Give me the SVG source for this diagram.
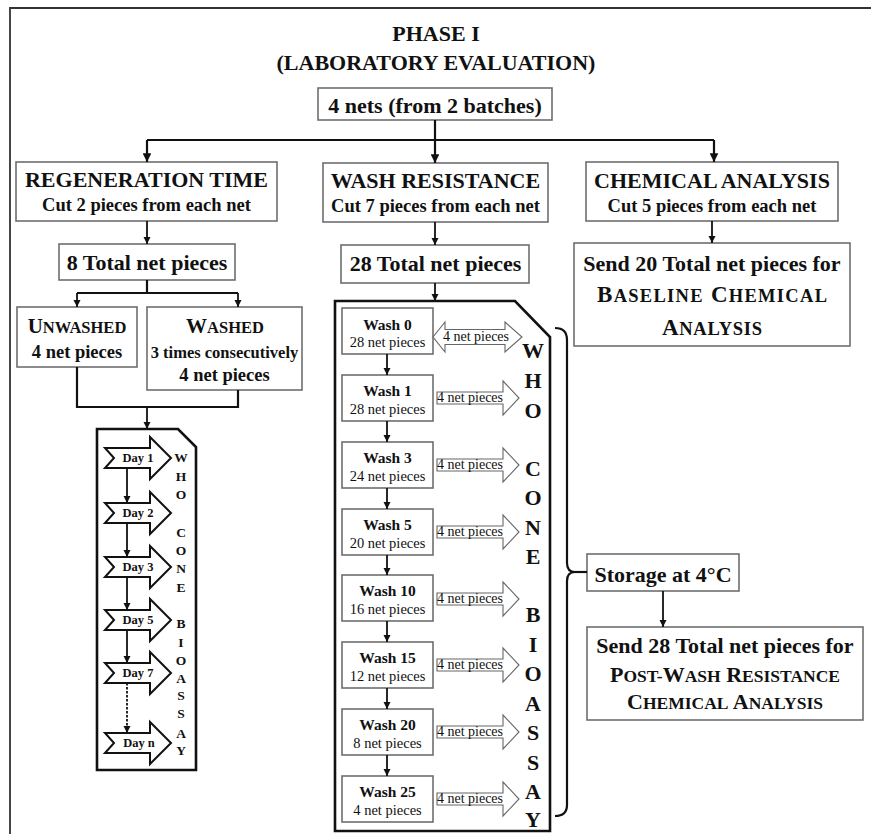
<svg xmlns="http://www.w3.org/2000/svg" width="871" height="834" viewBox="0 0 871 834">
<style>
text{font-family:"Liberation Serif","Times New Roman",serif;fill:#111;}
.box{fill:#fff;stroke:#6e6e6e;stroke-width:1.6;}
.thick{fill:#fff;stroke:#111;stroke-width:2.6;}
.ln{fill:none;stroke:#111;stroke-width:2.2;}
.lnt{fill:none;stroke:#111;stroke-width:1.8;}
.day{fill:#fff;stroke:#111;stroke-width:2;}
.np{fill:#fff;stroke:#666;stroke-width:1.1;}
.t22{font-size:22px;font-weight:bold;}
.t18{font-size:18.5px;font-weight:bold;}
.sc{font-size:17.5px;}
.wl{font-size:15.5px;font-weight:bold;}
.wc{font-size:14.5px;}
.npt{font-size:14px;}
.dt{font-size:12.5px;font-weight:bold;}
.lw{font-size:13.5px;font-weight:bold;}
.mw{font-size:22px;font-weight:bold;}
</style>
<defs>
<marker id="ah" viewBox="0 0 10 10" refX="10" refY="5" markerWidth="4" markerHeight="4" orient="auto" markerUnits="strokeWidth">
<path d="M0,0 L10,5 L0,10 z" fill="#111"/>
</marker>
</defs>

<g id="frame">
<path d="M10,834 L10,8 L871,8" fill="none" stroke="#333" stroke-width="1.8"/>
</g>

<g id="title">
<text class="t22" x="436" y="41" text-anchor="middle">PHASE I</text>
<text class="t22" x="436" y="70" text-anchor="middle">(LABORATORY EVALUATION)</text>
</g>

<g id="n-nets">
<rect class="box" x="318" y="88" width="234" height="32"/>
<text class="t22" x="435" y="113" text-anchor="middle">4 nets (from 2 batches)</text>
</g>

<g id="n-regen">
<rect class="box" x="16" y="162" width="261" height="59"/>
<text class="t22" x="146.5" y="187" text-anchor="middle">REGENERATION TIME</text>
<text class="t18" x="146.5" y="211" text-anchor="middle">Cut 2 pieces from each net</text>
</g>

<g id="n-washres">
<rect class="box" x="323" y="163" width="225" height="59"/>
<text class="t22" x="435.5" y="188" text-anchor="middle">WASH RESISTANCE</text>
<text class="t18" x="435.5" y="212" text-anchor="middle">Cut 7 pieces from each net</text>
</g>

<g id="n-chem">
<rect class="box" x="586" y="162" width="252" height="59"/>
<text class="t22" x="712" y="188" text-anchor="middle">CHEMICAL ANALYSIS</text>
<text class="t18" x="712" y="212" text-anchor="middle">Cut 5 pieces from each net</text>
</g>

<g id="n-8total">
<rect class="box" x="59" y="244" width="176" height="36"/>
<text class="t22" x="147" y="270" text-anchor="middle">8 Total net pieces</text>
</g>

<g id="n-28total">
<rect class="box" x="341" y="245" width="188" height="38"/>
<text class="t22" x="435.5" y="271" text-anchor="middle">28 Total net pieces</text>
</g>

<g id="n-send20">
<rect class="box" x="574" y="243" width="276" height="103"/>
<text class="t22" x="712" y="271" text-anchor="middle">Send 20 Total net pieces for</text>
<text class="t22" x="712" y="302" text-anchor="middle" style="font-size:23px" textLength="230" lengthAdjust="spacing">B<tspan style="font-size:18.5px">ASELINE</tspan> C<tspan style="font-size:18.5px">HEMICAL</tspan></text>
<text class="t22" x="712" y="335" text-anchor="middle" style="font-size:23px" textLength="100" lengthAdjust="spacing">A<tspan style="font-size:18.5px">NALYSIS</tspan></text>
</g>

<g id="n-unwashed">
<rect class="box" x="17" y="307" width="120" height="60"/>
<text class="t22" x="77" y="333" text-anchor="middle" style="font-size:21px">U<tspan style="font-size:16.5px">NWASHED</tspan></text>
<text class="t18" x="77" y="358" text-anchor="middle">4 net pieces</text>
</g>

<g id="n-washed">
<rect class="box" x="147" y="307" width="155" height="83"/>
<text class="t22" x="225" y="333" text-anchor="middle" style="font-size:21px">W<tspan style="font-size:16.5px">ASHED</tspan></text>
<text class="t18" x="224.5" y="358" text-anchor="middle" style="font-size:16.5px">3 times consecutively</text>
<text class="t18" x="224.5" y="381" text-anchor="middle">4 net pieces</text>
</g>

<g id="n-daybox">
<polygon class="thick" points="97,429 178,429 196,447 196,770 97,770"/>
<g id="days">
<polygon class="day" points="105,448 150,448 150,437 171,458 150,479 150,468 105,468 114,458"/>
<text class="dt" x="138" y="462" text-anchor="middle">Day 1</text>
<polygon class="day" points="105,503 150,503 150,492 171,513 150,534 150,523 105,523 114,513"/>
<text class="dt" x="138" y="517" text-anchor="middle">Day 2</text>
<polygon class="day" points="105,557 150,557 150,546 171,567 150,588 150,577 105,577 114,567"/>
<text class="dt" x="138" y="571" text-anchor="middle">Day 3</text>
<polygon class="day" points="105,610 150,610 150,599 171,620 150,641 150,630 105,630 114,620"/>
<text class="dt" x="138" y="624" text-anchor="middle">Day 5</text>
<polygon class="day" points="105,663 150,663 150,652 171,673 150,694 150,683 105,683 114,673"/>
<text class="dt" x="138" y="677" text-anchor="middle">Day 7</text>
<polygon class="day" points="105,733 150,733 150,722 171,743 150,764 150,753 105,753 114,743"/>
<text class="dt" x="139" y="747" text-anchor="middle">Day n</text>
</g>
<g id="who-left" text-anchor="middle">
<text class="lw" x="181" y="462">W</text>
<text class="lw" x="181" y="481">H</text>
<text class="lw" x="181" y="499">O</text>
<text class="lw" x="181" y="537">C</text>
<text class="lw" x="181" y="555">O</text>
<text class="lw" x="181" y="573">N</text>
<text class="lw" x="181" y="592">E</text>
<text class="lw" x="181" y="628">B</text>
<text class="lw" x="181" y="647">I</text>
<text class="lw" x="181" y="665">O</text>
<text class="lw" x="181" y="683">A</text>
<text class="lw" x="181" y="700">S</text>
<text class="lw" x="181" y="718">S</text>
<text class="lw" x="181" y="738">A</text>
<text class="lw" x="181" y="755">Y</text>
</g>
</g>

<g id="n-washbox">
<polygon class="thick" points="335,301 515,301 550,337 550,831 335,831"/>
</g>

<g id="n-wash0">
<rect class="box" x="342" y="308" width="91" height="46"/>
<text class="wl" x="387.5" y="330" text-anchor="middle">Wash 0</text>
<text class="wc" x="387.5" y="347" text-anchor="middle">28 net pieces</text>
</g>
<g id="n-wash1">
<rect class="box" x="342" y="375" width="91" height="46"/>
<text class="wl" x="387.5" y="396" text-anchor="middle">Wash 1</text>
<text class="wc" x="387.5" y="414" text-anchor="middle">28 net pieces</text>
</g>
<g id="n-wash3">
<rect class="box" x="342" y="442" width="91" height="46"/>
<text class="wl" x="387.5" y="463" text-anchor="middle">Wash 3</text>
<text class="wc" x="387.5" y="481" text-anchor="middle">24 net pieces</text>
</g>
<g id="n-wash5">
<rect class="box" x="342" y="509" width="91" height="46"/>
<text class="wl" x="387.5" y="530" text-anchor="middle">Wash 5</text>
<text class="wc" x="387.5" y="548" text-anchor="middle">20 net pieces</text>
</g>
<g id="n-wash10">
<rect class="box" x="342" y="575" width="91" height="46"/>
<text class="wl" x="387.5" y="596" text-anchor="middle">Wash 10</text>
<text class="wc" x="387.5" y="614" text-anchor="middle">16 net pieces</text>
</g>
<g id="n-wash15">
<rect class="box" x="342" y="642" width="91" height="46"/>
<text class="wl" x="387.5" y="663" text-anchor="middle">Wash 15</text>
<text class="wc" x="387.5" y="681" text-anchor="middle">12 net pieces</text>
</g>
<g id="n-wash20">
<rect class="box" x="342" y="709" width="91" height="46"/>
<text class="wl" x="387.5" y="730" text-anchor="middle">Wash 20</text>
<text class="wc" x="387.5" y="748" text-anchor="middle">8 net pieces</text>
</g>
<g id="n-wash25">
<rect class="box" x="342" y="776" width="91" height="46"/>
<text class="wl" x="387.5" y="797" text-anchor="middle">Wash 25</text>
<text class="wc" x="387.5" y="815" text-anchor="middle">4 net pieces</text>
</g>

<g id="np-arrows">
<polygon class="np" points="433,337 445,322 445,329.5 505,329.5 505,322 522,337 505,352 505,344.5 445,344.5 445,352"/>
<text class="npt" x="476" y="341" text-anchor="middle">4 net pieces</text>
<polygon class="np" points="437,392 503,392 503,381 519,398 503,415 503,404 437,404"/>
<text class="npt" x="470" y="402" text-anchor="middle">4 net pieces</text>
<polygon class="np" points="437,459 503,459 503,448 519,465 503,482 503,471 437,471"/>
<text class="npt" x="470" y="469" text-anchor="middle">4 net pieces</text>
<polygon class="np" points="437,526 503,526 503,515 519,532 503,549 503,538 437,538"/>
<text class="npt" x="470" y="536" text-anchor="middle">4 net pieces</text>
<polygon class="np" points="437,593 503,593 503,582 519,599 503,616 503,605 437,605"/>
<text class="npt" x="470" y="603" text-anchor="middle">4 net pieces</text>
<polygon class="np" points="437,659 503,659 503,648 519,665 503,682 503,671 437,671"/>
<text class="npt" x="470" y="669" text-anchor="middle">4 net pieces</text>
<polygon class="np" points="437,726 503,726 503,715 519,732 503,749 503,738 437,738"/>
<text class="npt" x="470" y="736" text-anchor="middle">4 net pieces</text>
<polygon class="np" points="437,793 503,793 503,782 519,799 503,816 503,805 437,805"/>
<text class="npt" x="470" y="803" text-anchor="middle">4 net pieces</text>
</g>

<g id="who-mid" text-anchor="middle">
<text class="mw" x="533" y="358">W</text>
<text class="mw" x="533" y="388">H</text>
<text class="mw" x="533" y="418">O</text>
<text class="mw" x="533" y="476">C</text>
<text class="mw" x="533" y="505">O</text>
<text class="mw" x="533" y="535">N</text>
<text class="mw" x="533" y="564">E</text>
<text class="mw" x="533" y="622">B</text>
<text class="mw" x="533" y="652">I</text>
<text class="mw" x="533" y="681">O</text>
<text class="mw" x="533" y="711">A</text>
<text class="mw" x="533" y="740">S</text>
<text class="mw" x="533" y="770">S</text>
<text class="mw" x="533" y="799">A</text>
<text class="mw" x="533" y="827">Y</text>
</g>

<g id="n-storage">
<rect class="box" x="587" y="554" width="152" height="37"/>
<text class="t22" x="663" y="582" text-anchor="middle">Storage at 4°C</text>
</g>

<g id="n-send28">
<rect class="box" x="587" y="627" width="276" height="93"/>
<text class="t22" x="725" y="653" text-anchor="middle">Send 28 Total net pieces for</text>
<text class="t22" x="725" y="682" text-anchor="middle">P<tspan class="sc">OST-</tspan>W<tspan class="sc">ASH</tspan> R<tspan class="sc">ESISTANCE</tspan></text>
<text class="t22" x="725" y="709" text-anchor="middle">C<tspan class="sc">HEMICAL</tspan> A<tspan class="sc">NALYSIS</tspan></text>
</g>

<g id="connectors">
<path class="ln" d="M435,120 L435,140 M147,140 L714,140"/>
<path class="ln" d="M147,140 L147,162" marker-end="url(#ah)"/>
<path class="ln" d="M435,140 L435,163" marker-end="url(#ah)"/>
<path class="ln" d="M714,140 L714,162" marker-end="url(#ah)"/>
<path class="lnt" d="M147,221 L147,244" marker-end="url(#ah)"/>
<path class="lnt" d="M435,222 L435,245" marker-end="url(#ah)"/>
<path class="lnt" d="M712,221 L712,243" marker-end="url(#ah)"/>
<path class="ln" d="M147,280 L147,293 M77,293 L238,293"/>
<path class="lnt" d="M77,293 L77,307" marker-end="url(#ah)"/>
<path class="lnt" d="M238,293 L238,307" marker-end="url(#ah)"/>
<path class="ln" d="M77,367 L77,407 L238,407 L238,390"/>
<path class="lnt" d="M147,407 L147,429" marker-end="url(#ah)"/>
<path class="lnt" d="M435,283 L435,301" marker-end="url(#ah)"/>
<path class="ln" d="M555,328 Q567,328 567,340 L567,563 Q567,572 575,572 Q567,572 567,581 L567,805 Q567,816 555,816"/>
<path class="ln" d="M575,572 L587,572"/>
<path class="lnt" d="M663,591 L663,627" marker-end="url(#ah)"/>
<path class="lnt" d="M387,354 L387,375" marker-end="url(#ah)"/>
<path class="lnt" d="M387,421 L387,442" marker-end="url(#ah)"/>
<path class="lnt" d="M387,488 L387,509" marker-end="url(#ah)"/>
<path class="lnt" d="M387,555 L387,575" marker-end="url(#ah)"/>
<path class="lnt" d="M387,621 L387,642" marker-end="url(#ah)"/>
<path class="lnt" d="M387,688 L387,709" marker-end="url(#ah)"/>
<path class="lnt" d="M387,755 L387,776" marker-end="url(#ah)"/>
<path class="lnt" d="M127,468 L127,503" marker-end="url(#ah)"/>
<path class="lnt" d="M127,523 L127,557" marker-end="url(#ah)"/>
<path class="lnt" d="M127,577 L127,610" marker-end="url(#ah)"/>
<path class="lnt" d="M127,630 L127,663" marker-end="url(#ah)"/>
<path class="lnt" d="M127,683 L127,733" stroke-dasharray="2.5,1.5" marker-end="url(#ah)"/>
</g>
</svg>
